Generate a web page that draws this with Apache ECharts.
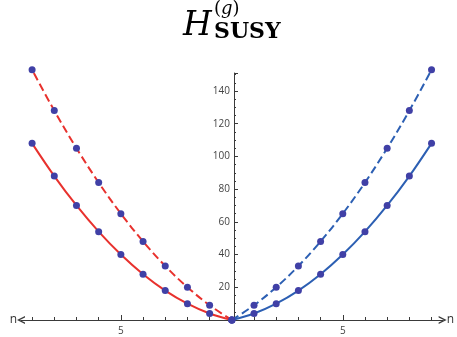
<!DOCTYPE html>
<html>
<head>
<meta charset="utf-8">
<script src="https://cdn.jsdelivr.net/npm/echarts@6/dist/echarts.min.js"></script>
<style>
  html, body { margin: 0; padding: 0; background: #fff; }
  #chart { width: 457px; height: 337px; }
</style>
</head>
<body>
<div id="chart"></div>
<script>
// n values and the two families
const nValues = [0, 1, 2, 3, 4, 5, 6, 7, 8, 9];
const solidValues = [0, 4, 10, 18, 28, 40, 54, 70, 88, 108];
const dashedValues = [0, 9, 20, 33, 48, 65, 84, 105, 128, 153];
const yTicks = [20, 40, 60, 80, 100, 120, 140];
const xLabelTicks = [-5, 5];
const xMinorTicks = [-9, -8, -7, -6, -4, -3, -2, -1, 1, 2, 3, 4, 6, 7, 8, 9];

const RED = "#e8312d";
const BLUE = "#2c5fb3";
const DOT = "#4040a6";
const AXIS = "#3a3a3a";

const right = (vals) => nValues.map((n, i) => [n, vals[i]]);
const left = (vals) => nValues.map((n, i) => [-n, vals[i]]);

// open chevron arrow head like the original
const chevron = "path://M0,10 L5,0 L10,10 L8.2,10 L5,3.6 L1.8,10 Z";

const GRID_LEFT = 21;
const GRID_RIGHT = 10;
const X_MIN = -9.5;
const X_MAX = 9.5;
// put the y axis at n = 0
const yOffset = -((0 - X_MIN) / (X_MAX - X_MIN)) * (457 - GRID_LEFT - GRID_RIGHT);

const chart = echarts.init(document.getElementById("chart"));

function line(name, data, color, dashed) {
  return {
    name,
    type: "line",
    data,
    smooth: 0.35,
    clip: false,
    symbol: "circle",
    symbolSize: 7,
    itemStyle: { color: DOT },
    lineStyle: { color, width: 2, type: dashed ? [8, 4] : "solid" },
    z: dashed ? 3 : 4,
  };
}

const xBase = {
  type: "value",
  min: X_MIN,
  max: X_MAX,
  splitLine: { show: false },
};

const serif = "DejaVu Serif";

chart.setOption({
  animation: false,
  backgroundColor: "#fff",
  title: [
    {
      text: "H",
      left: 183,
      top: 10,
      padding: 0,
      textStyle: { fontFamily: serif, fontStyle: "italic", fontWeight: "normal", fontSize: 33, color: "#000" },
    },
    {
      text: "SUSY",
      left: 214,
      top: 21,
      padding: 0,
      textStyle: { fontFamily: serif, fontWeight: "bold", fontSize: 22, color: "#000" },
    },
    {
      text: "({g|g})",
      left: 214,
      top: 0,
      padding: 0,
      textStyle: {
        fontFamily: serif,
        fontSize: 18,
        color: "#000",
        fontWeight: "normal",
        rich: { g: { fontFamily: serif, fontStyle: "italic", fontSize: 18, color: "#000" } },
      },
    },
  ],
  grid: { left: GRID_LEFT, right: GRID_RIGHT, top: 73, bottom: 17 },
  xAxis: [
    Object.assign({}, xBase, {
      name: "n",
      nameLocation: "end",
      nameGap: 4,
      nameTextStyle: { fontFamily: "Open Sans", fontSize: 12, color: "#333", verticalAlign: "middle" },
      axisLine: { lineStyle: { color: AXIS, width: 1 }, symbol: [chevron, chevron], symbolSize: [8, 11] },
      axisTick: { inside: true, length: 5, customValues: xLabelTicks, lineStyle: { color: AXIS } },
      axisLabel: {
        customValues: xLabelTicks,
        formatter: (v) => String(Math.abs(v)),
        fontFamily: "Open Sans",
        fontSize: 10,
        color: "#444",
        margin: 6,
      },
    }),
    Object.assign({}, xBase, {
      position: "bottom",
      name: "n",
      nameLocation: "start",
      nameGap: 4,
      nameTextStyle: { fontFamily: "Open Sans", fontSize: 12, color: "#333", verticalAlign: "middle" },
      axisLine: { show: false },
      axisTick: { inside: true, length: 3, customValues: xMinorTicks, lineStyle: { color: AXIS } },
      axisLabel: { show: false },
    }),
  ],
  yAxis: {
    type: "value",
    min: 0,
    max: 151,
    interval: 20,
    position: "left",
    offset: yOffset,
    axisLine: { show: true, onZero: false, lineStyle: { color: AXIS } },
    axisTick: { show: true, inside: true, length: 4, lineStyle: { color: AXIS } },
    minorTick: { show: true, splitNumber: 4, length: 2, lineStyle: { color: AXIS } },
    splitLine: { show: false },
    axisLabel: {
      formatter: (v) => (yTicks.includes(v) ? String(v) : ""),
      fontFamily: "Open Sans",
      fontSize: 10,
      color: "#444",
      margin: 4,
    },
  },
  series: [
    line("left dashed", left(dashedValues), RED, true),
    line("left solid", left(solidValues), RED, false),
    line("right dashed", right(dashedValues), BLUE, true),
    line("right solid", right(solidValues), BLUE, false),
  ],
});
</script>
</body>
</html>
